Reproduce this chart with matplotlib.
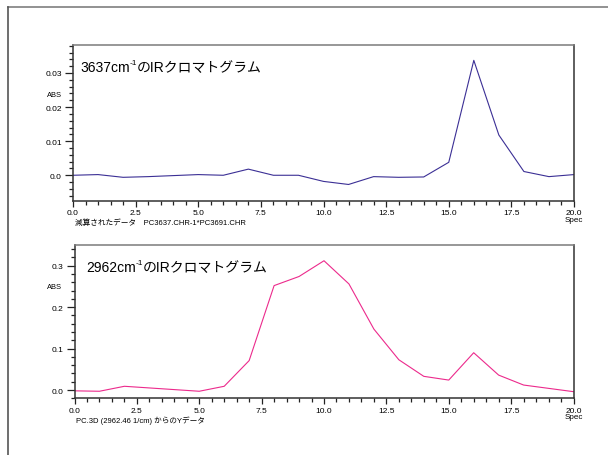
import matplotlib

matplotlib.use("Agg")
import matplotlib.pyplot as plt
from matplotlib.lines import Line2D
from matplotlib.ticker import FixedLocator, MultipleLocator

plt.rcParams["font.family"] = ["Liberation Sans", "Noto Sans CJK JP", "DejaVu Sans"]

# ---- data ----
spec = list(range(21))
abs_3637 = [0.0, 0.0002, -0.0006, -0.0004, -0.0001, 0.0002, 0.0, 0.0018, 0.0, 0.0,
            -0.0018, -0.0027, -0.0004, -0.0006, -0.0005, 0.0038, 0.0337, 0.0118,
            0.0011, -0.0004, 0.0002]
abs_2962 = [-0.002, -0.003, 0.009, 0.005, 0.001, -0.003, 0.009, 0.071, 0.252, 0.274,
            0.312, 0.256, 0.147, 0.073, 0.033, 0.024, 0.090, 0.036, 0.012, 0.004,
            -0.004]

x_ticks = [0.0, 2.5, 5.0, 7.5, 10.0, 12.5, 15.0, 17.5, 20.0]
x_labels = ["0.0", "2.5", "5.0", "7.5", "10.0", "12.5", "15.0", "17.5", "20.0"]
top_yticks = [0.0, 0.01, 0.02, 0.03]
top_ylabels = ["0.0", "0.01", "0.02", "0.03"]
bot_yticks = [0.0, 0.1, 0.2, 0.3]
bot_ylabels = ["0.0", "0.1", "0.2", "0.3"]

# title pieces: number + "cm", superscript, rest
title_top = ("3637cm", "-1", "のIRクロマトグラム")
title_bot = ("2962cm", "-1", "のIRクロマトグラム")
caption_top = "減算されたデータ　PC3637.CHR-1*PC3691.CHR"
caption_bot = "PC.3D (2962.46 1/cm) からのYデータ"

fig = plt.figure(figsize=(6.08, 4.56), dpi=100)

# outer frame (only top and left edges fall inside the picture)
fig.add_artist(Line2D([8 / 608, 1.0], [1 - 8 / 456, 1 - 8 / 456],
                      transform=fig.transFigure, color="#7f7f7f", lw=1.2))
fig.add_artist(Line2D([8 / 608, 8 / 608], [1 - 8 / 456, 0.0],
                      transform=fig.transFigure, color="#555555", lw=1.2))


def panel(rect, y, color, yticks, ylabels, minor, ylim, title, tx, caption,
          abs_x, abs_y, cap_y):
    ax = fig.add_axes(rect)
    ax.plot(spec, y, color=color, lw=0.8)
    ax.set_xlim(0, 20)
    ax.set_ylim(*ylim)
    ax.xaxis.set_major_locator(FixedLocator(x_ticks))
    ax.set_xticklabels(x_labels)
    ax.xaxis.set_minor_locator(MultipleLocator(0.5))
    ax.yaxis.set_major_locator(FixedLocator(yticks))
    ax.set_yticklabels(ylabels)
    ax.yaxis.set_minor_locator(MultipleLocator(minor))
    ax.tick_params(which="major", direction="out", labelsize=6, color="#222222",
                   width=0.9, pad=2)
    ax.tick_params(axis="y", which="major", length=6)
    ax.tick_params(axis="x", which="major", length=4)
    ax.tick_params(which="minor", direction="out", length=3, width=0.9, color="#222222")
    ax.spines["top"].set_color("#7a7a7a")
    for s in ("left", "right", "bottom"):
        ax.spines[s].set_color("#333333")
    for s in ax.spines.values():
        s.set_linewidth(1.1)

    base = 0.833
    t1 = ax.text(tx, base, title[0], transform=ax.transAxes, fontsize=10,
                 va="baseline", ha="left")
    t2 = ax.annotate(title[1], xy=(1, base + 0.045), xycoords=(t1, ax.transAxes),
                     fontsize=6, va="baseline", ha="left")
    ax.annotate(title[2], xy=(1, base), xycoords=(t2, ax.transAxes),
                fontsize=10, va="baseline", ha="left")

    ax.text(abs_x, abs_y, "ABS", transform=ax.transAxes, fontsize=5.4,
            ha="right", va="center")
    ax.text(1.0, cap_y + 0.014, "Spec", transform=ax.transAxes, fontsize=5.8,
            ha="center", va="top")
    ax.text(0.003, cap_y, caption, transform=ax.transAxes, fontsize=5.5,
            ha="left", va="top")
    return ax


panel([73 / 608, 1 - 201.5 / 456, 501 / 608, 155.5 / 456], abs_3637, "#3b2f95",
      top_yticks, top_ylabels, 0.002, (-0.0074, 0.0382), title_top, 0.014,
      caption_top, -0.022, 0.68, -0.115)
panel([74.5 / 608, 1 - 399.3 / 456, 499 / 608, 153.3 / 456], abs_2962, "#ec2a8c",
      bot_yticks, bot_ylabels, 0.02, (-0.02, 0.35), title_bot, 0.023,
      caption_bot, -0.025, 0.728, -0.11)

fig.savefig("out.png", dpi=100, facecolor="white")
